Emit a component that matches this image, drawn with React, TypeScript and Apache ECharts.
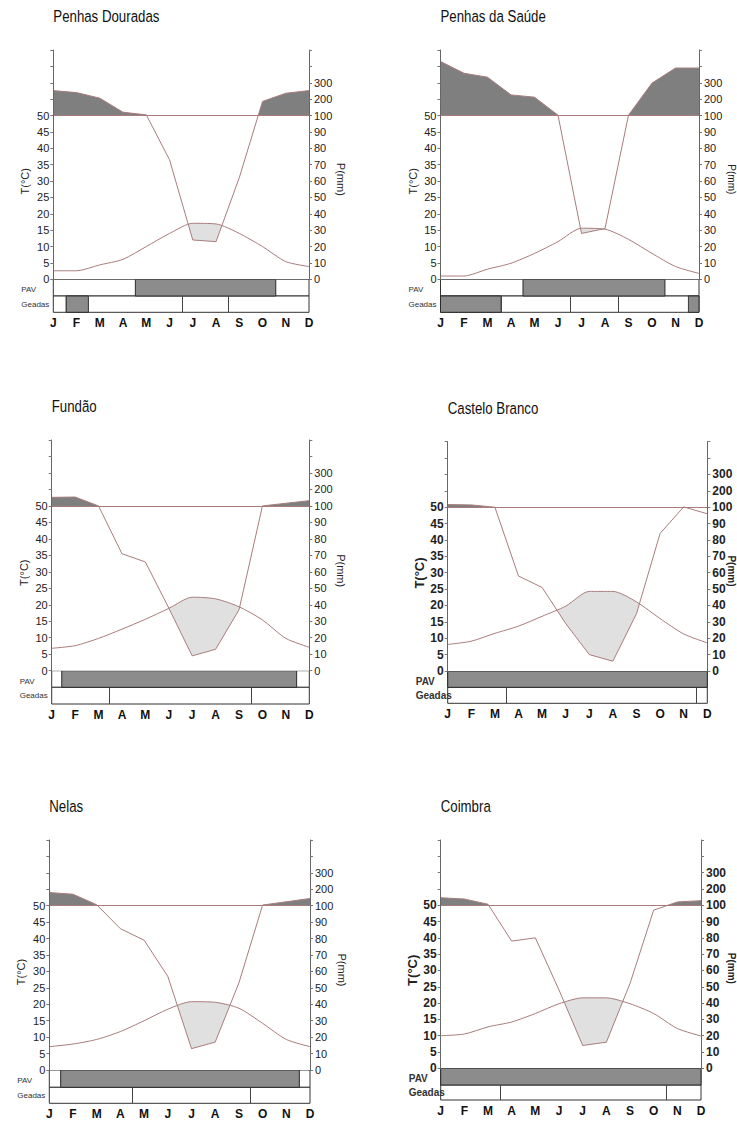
import React, { useEffect, useRef } from 'react';
import * as echarts from 'echarts';

const MONTHS = ['J', 'F', 'M', 'A', 'M', 'J', 'J', 'A', 'S', 'O', 'N', 'D'];
const T_LABELS = [0, 5, 10, 15, 20, 25, 30, 35, 40, 45, 50];
const P_LABELS = [0, 10, 20, 30, 40, 50, 60, 70, 80, 90, 100, 200, 300];

const STATIONS = ['Penhas Douradas', 'Penhas da Saúde', 'Fundão', 'Castelo Branco', 'Nelas', 'Coimbra'];

// monthly mean temperature (°C)
const tempPenhasDouradas = [2.6, 2.6, 4.4, 6.1, 10.0, 14.0, 17.1, 16.9, 14.0, 10.0, 5.4, 3.9];
const tempPenhasSaude = [1.0, 1.0, 3.1, 4.9, 7.9, 11.5, 15.6, 15.3, 12.2, 7.9, 3.9, 1.8];
const tempFundao = [6.8, 7.6, 9.8, 12.6, 15.6, 18.9, 22.3, 21.8, 19.4, 15.4, 9.8, 7.1];
const tempCasteloBranco = [8.1, 9.1, 11.5, 13.7, 16.7, 19.8, 24.3, 24.3, 21.1, 16.0, 11.3, 8.6];
const tempNelas = [7.1, 7.9, 9.3, 11.7, 15.0, 18.5, 20.8, 20.6, 18.8, 14.2, 9.3, 7.1];
const tempCoimbra = [10.0, 10.5, 12.7, 14.2, 16.8, 19.8, 21.6, 21.6, 19.8, 16.8, 12.2, 9.9];

// monthly precipitation (mm)
const precPenhasDouradas = [252, 240, 206, 120, 104, 73, 24, 23, 62, 186, 236, 252];
const precPenhasSaude = [430, 358, 334, 226, 212, 102, 28, 31, 102, 298, 390, 390];
const precFundao = [152, 154, 100, 71, 66, 38, 9, 13, 37, 100, 116, 132];
const precCasteloBranco = [116, 114, 100, 58, 51, 29, 10, 6, 35, 84, 102, 96];
const precNelas = [180, 170, 106, 86, 79, 57, 13, 17, 53, 104, 124, 144];
const precCoimbra = [146, 138, 106, 78, 80, 48, 14, 16, 52, 97, 120, 128];

// PAV period (month units, 0 = J ... 11 = D)
const pavPenhasDouradas = [3.53, 9.57];
const pavPenhasSaude = [3.51, 9.55];
const pavFundao = [0.43, 10.46];
const pavCasteloBranco = [0, 11];
const pavNelas = [0.48, 10.55];
const pavCoimbra = [0, 11];

// frost (Geadas) shaded segments and segment boundaries
const frostFillPenhasDouradas = [[0.55, 1.51]];
const frostFillPenhasSaude = [[0, 2.58], [10.55, 11]];
const frostBoundsPenhasDouradas = [0.55, 1.51, 5.53, 7.54];
const frostBoundsPenhasSaude = [2.58, 5.52, 7.57, 10.55];
const frostBoundsFundao = [2.45, 8.5];
const frostBoundsCasteloBranco = [2.5, 10.52];
const frostBoundsNelas = [3.5, 8.47];
const frostBoundsCoimbra = [2.5, 9.55];

const TEMPS = [tempPenhasDouradas, tempPenhasSaude, tempFundao, tempCasteloBranco, tempNelas, tempCoimbra];
const PRECS = [precPenhasDouradas, precPenhasSaude, precFundao, precCasteloBranco, precNelas, precCoimbra];
const PAVS = [pavPenhasDouradas, pavPenhasSaude, pavFundao, pavCasteloBranco, pavNelas, pavCoimbra];
const FROST_FILL = [frostFillPenhasDouradas, frostFillPenhasSaude, [], [], [], []];
const FROST_BOUNDS = [frostBoundsPenhasDouradas, frostBoundsPenhasSaude, frostBoundsFundao, frostBoundsCasteloBranco, frostBoundsNelas, frostBoundsCoimbra];

// layout (pixels)
const LAYOUT = [
  { l: 53.3, r: 309, top: 50, zero: 279.3, pav: 296, geo: 312.3, bold: false },
  { l: 440.5, r: 699, top: 50, zero: 279.3, pav: 296, geo: 312.3, bold: false },
  { l: 51.7, r: 309.3, top: 440, zero: 670.7, pav: 687.3, geo: 704, bold: false },
  { l: 447.7, r: 707.3, top: 441.7, zero: 671, pav: 687.3, geo: 703.3, bold: true },
  { l: 49.3, r: 310, top: 840, zero: 1070, pav: 1087.3, geo: 1103.3, bold: false },
  { l: 440.7, r: 701, top: 840, zero: 1068.3, pav: 1085, geo: 1100, bold: true },
];

const LINE = '#a97c7c';
const DARK = '#7f7f7f';
const LIGHT = '#e0e0e0';
const FONT = "'Liberation Sans Narrow','Arial Narrow','Liberation Sans',Arial,sans-serif";

const toEq = (p: number) => (p <= 100 ? p / 2 : 50 + (p - 100) / 20);
const fromEq = (v: number) => (v <= 50 ? v * 2 : 100 + (v - 50) * 20);

function buildOption() {
  const grid: any[] = [];
  const xAxis: any[] = [];
  const yAxis: any[] = [];
  const series: any[] = [];
  const graphic: any[] = [];

  LAYOUT.forEach((L, k) => {
    const w = L.r - L.l;
    const h = L.zero - L.top;
    const hUp = (h * 20) / 70;
    const g0 = grid.length;
    const y0 = yAxis.length;
    grid.push({ left: L.l, top: L.top, width: w, height: h });
    grid.push({ left: L.l, top: L.top, width: w, height: hUp });
    grid.push({ left: L.l, top: L.top + hUp, width: w, height: h - hUp });
    grid.push({ left: L.l, top: L.zero, width: w, height: L.pav - L.zero, show: true, borderColor: '#333', borderWidth: 1, backgroundColor: '#fff' });
    grid.push({ left: L.l, top: L.pav, width: w, height: L.geo - L.pav, show: true, borderColor: '#333', borderWidth: 1, backgroundColor: '#fff' });

    for (let i = 0; i < 5; i++) {
      xAxis.push({
        type: 'value', gridIndex: g0 + i, min: 0, max: 11, interval: 1,
        show: i === 4,
        axisLine: { show: false }, axisTick: { show: false }, splitLine: { show: false },
        axisLabel: {
          show: i === 4, margin: 5, fontSize: 12, fontWeight: 'bold', fontFamily: FONT, color: '#111',
          formatter: (v: number) => MONTHS[Math.round(v)] || '',
        },
      });
    }

    const labelFont = {
      fontSize: L.bold ? 12 : 11,
      fontWeight: L.bold ? 'bold' : 'normal',
      fontFamily: FONT,
      color: '#222',
    };
    yAxis.push({
      type: 'value', gridIndex: g0, min: 0, max: 70, interval: 5, position: 'left', z: 6,
      axisLine: { show: true, lineStyle: { color: '#666', width: 1 } },
      axisTick: { show: true, length: 3, lineStyle: { color: '#777' } },
      splitLine: { show: false },
      axisLabel: { ...labelFont, margin: 4, formatter: (v: number) => (T_LABELS.includes(v) ? String(v) : '') },
    });
    yAxis.push({
      type: 'value', gridIndex: g0, min: 0, max: 70, interval: 5, position: 'right', z: 6,
      axisLine: { show: true, lineStyle: { color: '#666', width: 1 } },
      axisTick: { show: true, length: 3, lineStyle: { color: '#777' } },
      splitLine: { show: false },
      axisLabel: {
        ...labelFont, margin: 5,
        formatter: (v: number) => {
          const p = Math.round(fromEq(v));
          return P_LABELS.includes(p) ? String(p) : '';
        },
      },
    });
    yAxis.push({ type: 'value', gridIndex: g0 + 1, min: 50, max: 70, show: false, splitLine: { show: false } });
    yAxis.push({ type: 'value', gridIndex: g0 + 2, min: 0, max: 50, show: false, splitLine: { show: false } });
    yAxis.push({ type: 'value', gridIndex: g0 + 3, min: 0, max: 1, show: false, splitLine: { show: false } });
    yAxis.push({ type: 'value', gridIndex: g0 + 4, min: 0, max: 1, show: false, splitLine: { show: false } });

    const tData = TEMPS[k].map((t, i) => [i, t]);
    const pData = PRECS[k].map((p, i) => [i, toEq(p)]);
    const TSMOOTH = 0.25;

    // humid (> 100 mm) dark fill
    series.push({
      type: 'line', xAxisIndex: g0 + 1, yAxisIndex: y0 + 2, data: pData, showSymbol: false, silent: true, z: 1, clip: true,
      lineStyle: { width: 0 }, areaStyle: { color: DARK, opacity: 1, origin: 'start' },
    });
    // dry period fill: below temperature ...
    series.push({
      type: 'line', xAxisIndex: g0 + 2, yAxisIndex: y0 + 3, data: tData, smooth: TSMOOTH, showSymbol: false, silent: true, z: 1, clip: true,
      lineStyle: { width: 0 }, areaStyle: { color: LIGHT, opacity: 1, origin: 'start' },
    });
    // ... minus below precipitation
    series.push({
      type: 'line', xAxisIndex: g0 + 2, yAxisIndex: y0 + 3, data: pData, showSymbol: false, silent: true, z: 2, clip: true,
      lineStyle: { width: 0 }, areaStyle: { color: '#ffffff', opacity: 1, origin: 'start' },
    });
    // temperature line
    series.push({
      type: 'line', xAxisIndex: g0, yAxisIndex: y0, data: tData, smooth: TSMOOTH, showSymbol: false, silent: true, z: 5,
      lineStyle: { color: LINE, width: 1 },
    });
    // precipitation line + 100 mm line
    series.push({
      type: 'line', xAxisIndex: g0, yAxisIndex: y0, data: pData, showSymbol: false, silent: true, z: 5,
      lineStyle: { color: LINE, width: 1 },
      markLine: {
        silent: true, symbol: ['none', 'none'], label: { show: false },
        lineStyle: { color: LINE, width: 1, type: 'solid' },
        data: [{ yAxis: 50 }],
      },
    });
    // PAV bar
    series.push({
      type: 'line', xAxisIndex: g0 + 3, yAxisIndex: y0 + 4, data: [], silent: true, z: 3,
      markArea: {
        silent: true,
        itemStyle: { color: '#8c8c8c', borderColor: '#2a2a2a', borderWidth: 1 },
        data: [[{ xAxis: PAVS[k][0] }, { xAxis: PAVS[k][1] }]],
      },
    });
    // Geadas strip
    series.push({
      type: 'line', xAxisIndex: g0 + 4, yAxisIndex: y0 + 5, data: [], silent: true, z: 3,
      markArea: {
        silent: true,
        itemStyle: { color: '#8c8c8c', borderColor: '#2a2a2a', borderWidth: 1 },
        data: FROST_FILL[k].map((seg) => [{ xAxis: seg[0] }, { xAxis: seg[1] }]),
      },
      markLine: {
        silent: true, symbol: ['none', 'none'], label: { show: false },
        lineStyle: { color: '#444', width: 1, type: 'solid' },
        data: FROST_BOUNDS[k].map((x) => ({ xAxis: x })),
      },
    });

    const smallSize = L.bold ? 10 : 8;
    const smallWeight = L.bold ? 'bold' : 'normal';
    const nearEdge = L.r + 32 > 729;
    graphic.push({
      type: 'text', x: L.l, y: L.top - 34, scaleX: 0.78,
      style: { text: STATIONS[k], fontSize: 17, fontFamily: FONT, fill: '#111', textAlign: 'left', textVerticalAlign: 'middle', align: 'left', verticalAlign: 'middle' },
    });
    graphic.push({
      type: 'text', x: L.l - 28, y: L.zero - 98, rotation: Math.PI / 2,
      style: { text: 'T(°C)', fontSize: L.bold ? 13 : 11, fontWeight: smallWeight, fontFamily: FONT, fill: '#222', textAlign: 'center', textVerticalAlign: 'middle', align: 'center', verticalAlign: 'middle' },
    });
    graphic.push({
      type: 'text', x: nearEdge ? 731 : L.r + 32, y: L.zero - 100, rotation: -Math.PI / 2,
      style: { text: 'P(mm)', fontSize: nearEdge ? 10 : 11, fontWeight: smallWeight, fontFamily: FONT, fill: '#222', textAlign: 'center', textVerticalAlign: 'middle', align: 'center', verticalAlign: 'middle' },
    });
    graphic.push({
      type: 'text', x: L.l - 32, y: (L.zero + L.pav) / 2 + 2,
      style: { text: 'PAV', fontSize: smallSize, fontWeight: smallWeight, fontFamily: FONT, fill: '#333', textAlign: 'left', textVerticalAlign: 'middle', align: 'left', verticalAlign: 'middle' },
    });
    graphic.push({
      type: 'text', x: L.l - 32, y: (L.pav + L.geo) / 2,
      style: { text: 'Geadas', fontSize: smallSize, fontWeight: smallWeight, fontFamily: FONT, fill: '#333', textAlign: 'left', textVerticalAlign: 'middle', align: 'left', verticalAlign: 'middle' },
    });
  });

  return { animation: false, backgroundColor: '#ffffff', grid, xAxis, yAxis, series, graphic };
}

export default function App() {
  const ref = useRef<HTMLDivElement>(null);
  useEffect(() => {
    document.body.style.margin = '0';
    if (!ref.current) return;
    const chart = echarts.init(ref.current, undefined, { renderer: 'svg' });
    chart.setOption(buildOption() as any);
    return () => chart.dispose();
  }, []);
  return <div ref={ref} style={{ width: 737, height: 1125 }} />;
}
